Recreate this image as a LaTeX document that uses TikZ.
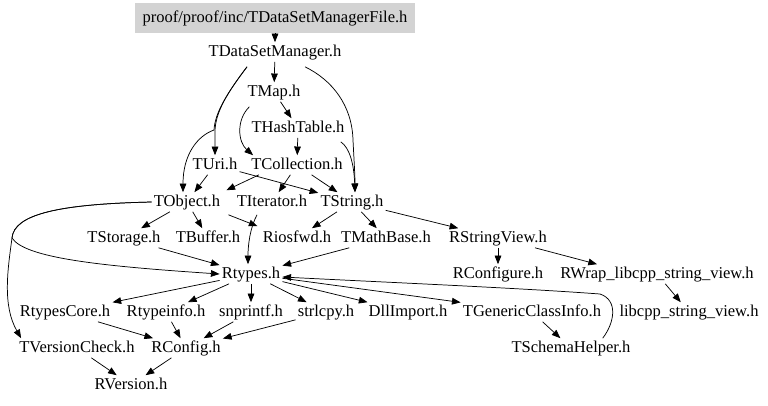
\documentclass[tikz,border=0pt]{standalone}
\usepackage{fontspec}
\setmainfont{Liberation Serif}
\usetikzlibrary{arrows.meta}

\definecolor{rootgray}{HTML}{D3D3D3}
\tikzset{
    hdr/.style={inner sep=1.5pt, text height=8.7pt, text depth=2.6pt, font=\fontsize{12.4}{14}\selectfont},
    inc/.style={-{Triangle[length=6.5pt,width=5pt]}, line width=0.55pt},
}

\begin{document}
\begin{tikzpicture}[x=0.75pt, y=-0.75pt]
    \useasboundingbox (0,0) rectangle (768,405);

    % Root file
    \node[hdr, fill=rootgray, minimum height=22.5pt, minimum width=210pt] (root) at (275,18) {proof/proof/inc/TDataSetManagerFile.h};

    % Headers, row by row
    \node[hdr] (tdsm) at (275,52) {TDataSetManager.h};
    \node[hdr] (tmap) at (274,92) {TMap.h};
    \node[hdr] (thash) at (298,128) {THashTable.h};
    \node[hdr] (turi) at (215,165) {TUri.h};
    \node[hdr] (tcoll) at (297,165) {TCollection.h};
    \node[hdr] (tobj) at (187,202) {TObject.h};
    \node[hdr] (titer) at (272,202) {TIterator.h};
    \node[hdr] (tstring) at (352,202) {TString.h};
    \node[hdr] (tstor) at (124,238) {TStorage.h};
    \node[hdr] (tbuf) at (208,238) {TBuffer.h};
    \node[hdr] (riosfwd) at (297,238) {Riosfwd.h};
    \node[hdr] (tmathb) at (386,238) {TMathBase.h};
    \node[hdr] (rsv) at (498,238) {RStringView.h};
    \node[hdr] (rtypes) at (251,274) {Rtypes.h};
    \node[hdr] (rconfigure) at (498,274) {RConfigure.h};
    \node[hdr] (rwrap) at (657,274) {RWrap\_libcpp\_string\_view.h};
    \node[hdr] (rtcore) at (65,312) {RtypesCore.h};
    \node[hdr] (rtinfo) at (166,312) {Rtypeinfo.h};
    \node[hdr] (snpr) at (251,312) {snprintf.h};
    \node[hdr] (strl) at (326,312) {strlcpy.h};
    \node[hdr] (dllimp) at (408,312) {DllImport.h};
    \node[hdr] (tgci) at (532,312) {TGenericClassInfo.h};
    \node[hdr] (libcpp) at (689,312) {libcpp\_string\_view.h};
    \node[hdr] (tvc) at (77,348) {TVersionCheck.h};
    \node[hdr] (rconfig) at (186,348) {RConfig.h};
    \node[hdr] (tsh) at (571,348) {TSchemaHelper.h};
    \node[hdr] (rversion) at (131,385) {RVersion.h};

    % Includes from the top part
    \draw[inc] (root.south -| tdsm) -- (tdsm);
    \draw[inc] (tdsm) -- (tmap);
    \draw[inc] ([shift={(-28,5)}]tdsm.south) .. controls (228,92) and (215,112) .. (215,132) -- (turi);
    \draw[inc] ([shift={(-28,5)}]tdsm.south) .. controls (228,92) and (215,112) .. (214,130)
        .. controls (197,136) and (183,155) .. ([shift={(-4,0)}]tobj.north);
    \draw[inc] ([shift={(30,5)}]tdsm.south) .. controls (332,80) and (352,105) .. (353,140)
        .. controls (354,160) and (355,175) .. ([shift={(3,0)}]tstring.north);
    \draw[inc] (tmap) -- (thash);
    \draw[inc] ([shift={(4,5)}]tmap.south west) .. controls (236,120) and (238,142) .. ([shift={(4,0)}]tcoll.north west);
    \draw[inc] (thash) -- (tcoll);
    \draw[inc] ([shift={(-6,4)}]thash.south east) .. controls (350,148) and (354,165) .. ([shift={(3,0)}]tstring.north);
    \draw[inc] (turi) -- (tobj);
    \draw[inc] (turi) -- (tstring);
    \draw[inc] ([shift={(-38,0)}]tcoll.south) -- ([shift={(4,-2)}]tobj.north east);
    \draw[inc] (tcoll) -- (titer);
    \draw[inc] (tcoll) -- (tstring);

    % Middle rows
    \draw[inc] (tobj) -- (tstor);
    \draw[inc] (tobj) -- (tbuf);
    \draw[inc] ([shift={(6,3)}]tobj.south east) -- ([shift={(-3,-2)}]riosfwd.north west);
    \draw[inc] (tobj.west) .. controls (60,204) and (14,214) .. (12,238)
        .. controls (25,258) and (100,266) .. (rtypes.west);
    \draw[inc] (tobj.west) .. controls (60,204) and (14,214) .. (12,238)
        .. controls (8,268) and (2,305) .. ([shift={(4,0)}]tvc.north west);
    \draw[inc] ([shift={(-15,3)}]titer.south) .. controls (250,228) and (248,245) .. ([shift={(-3,0)}]rtypes.north);
    \draw[inc] (tstring) -- (riosfwd);
    \draw[inc] (tstring) -- (tmathb);
    \draw[inc] (tstring) -- (rsv);
    \draw[inc] (tstor) -- (rtypes);
    \draw[inc] (tmathb) -- (rtypes);
    \draw[inc] (rsv) -- (rconfigure);
    \draw[inc] (rsv) -- ([shift={(-60,0)}]rwrap.north);
    \draw[inc] (rwrap) -- (libcpp);

    % Rtypes and below
    \foreach \dst in {rtcore, rtinfo, snpr, strl, dllimp, tgci}
        \draw[inc] (rtypes) -- (\dst);
    \draw[inc] ([shift={(-30,0)}]tsh.north east) .. controls (615,322) and (618,300) .. (600,294)
        .. controls (520,288) and (380,282) .. ([shift={(0,3)}]rtypes.east);
    \draw[inc] (tgci) -- (tsh);
    \foreach \src in {rtcore, rtinfo, snpr, strl}
        \draw[inc] (\src) -- (rconfig);
    \draw[inc] (tvc) -- (rversion);
    \draw[inc] (rconfig) -- (rversion);
\end{tikzpicture}
\end{document}
